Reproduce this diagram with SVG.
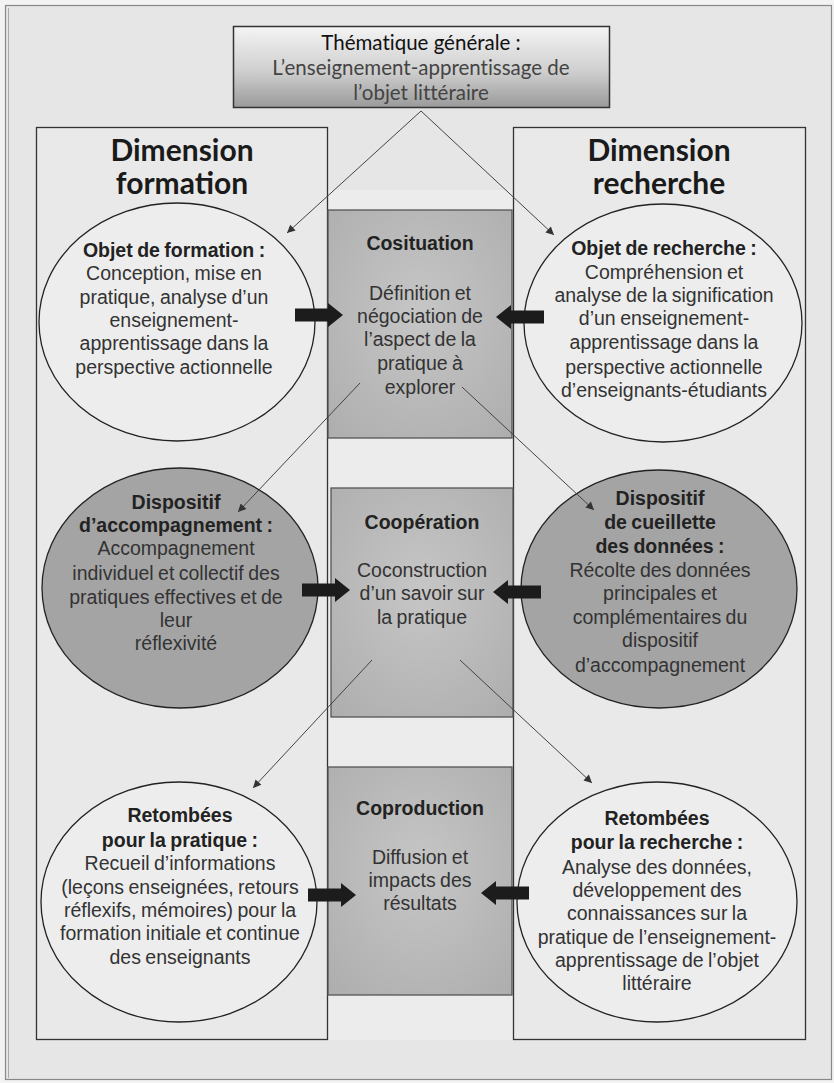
<svg xmlns="http://www.w3.org/2000/svg" xmlns:xlink="http://www.w3.org/1999/xlink" width="834" height="1083" viewBox="0 0 834 1083">
<defs>
<style>
.t{font-family:"Liberation Sans",Arial,sans-serif;font-size:19.5px;fill:#333;text-anchor:middle;word-spacing:-1px}
.b{font-weight:bold;fill:#222}
.dim{font-family:Lato,"Open Sans",sans-serif;font-size:30px;font-weight:bold;fill:#1a1a1a;text-anchor:middle}
.top{font-family:Lato,"Open Sans",sans-serif;font-size:20.5px;text-anchor:middle;fill:#444;font-variant-ligatures:none}
.col{fill:#e9e9e9;stroke:#333;stroke-width:1.3}
.ell{fill:#ededed;stroke:#222;stroke-width:1.3}
.ellD{fill:#a4a4a4;stroke:#222;stroke-width:1.3}
.cbox{fill:url(#cg);stroke:#555;stroke-width:1.3}
.conn{stroke:#444;stroke-width:1;fill:none;marker-end:url(#ah)}
.blk{fill:#1c1c1c}
</style>
<linearGradient id="tg" x1="0" y1="0" x2="0" y2="1">
<stop offset="0" stop-color="#f4f4f4"/>
<stop offset="0.55" stop-color="#cfcfcf"/>
<stop offset="1" stop-color="#9a9a9a"/>
</linearGradient>
<radialGradient id="cg" cx="0.5" cy="0.45" r="0.75">
<stop offset="0" stop-color="#c6c6c6"/>
<stop offset="1" stop-color="#adadad"/>
</radialGradient>
<marker id="ah" viewBox="0 0 10 10" refX="10" refY="5" markerWidth="10" markerHeight="8" markerUnits="userSpaceOnUse" orient="auto">
<path d="M0,0 L10,5 L0,10 Z" fill="#333"/>
</marker>
<path id="blkArrow" d="M0,-6.5 H33 V-12 L48,0 L33,12 V6.5 H0 Z"/>
</defs>

<rect x="0" y="0" width="834" height="1083" fill="#f3f3f3"/>
<rect x="5.5" y="5.5" width="826" height="1074" fill="#e6e6e6" stroke="#888" stroke-width="1.2"/>
<line x1="8.5" y1="8" x2="8.5" y2="1078" stroke="#aaa" stroke-width="1"/>

<g id="strip">
<rect x="327" y="190" width="186" height="850" fill="#ececec"/>
</g>

<g id="col-formation">
<rect class="col" x="36.5" y="127.5" width="291" height="912"/>
<text class="dim" x="182" y="161">Dimension</text>
<text class="dim" x="182" y="194">formation</text>
</g>

<g id="col-recherche">
<rect class="col" x="513.5" y="127.5" width="292" height="912"/>
<text class="dim" x="659" y="161">Dimension</text>
<text class="dim" x="659" y="194">recherche</text>
</g>

<g id="thematique">
<rect x="233.5" y="26.5" width="376" height="81" fill="url(#tg)" stroke="#333" stroke-width="1.5"/>
<text class="top" x="421" y="50" style="fill:#111">Thématique générale :</text>
<text class="top" x="421" y="75">L’enseignement-apprentissage de</text>
<text class="top" x="421" y="100">l’objet littéraire</text>
</g>

<g id="cosituation">
<rect class="cbox" x="328" y="210" width="184" height="228"/>
<text class="t b" x="420" y="250">Cosituation</text>
<text class="t" x="420" y="300">Définition et</text>
<text class="t" x="420" y="323">négociation de</text>
<text class="t" x="420" y="346">l’aspect de la</text>
<text class="t" x="420" y="370">pratique à</text>
<text class="t" x="420" y="394">explorer</text>
</g>

<g id="cooperation">
<rect class="cbox" x="331" y="488" width="182" height="229"/>
<text class="t b" x="422" y="529">Coopération</text>
<text class="t" x="422" y="577">Coconstruction</text>
<text class="t" x="422" y="600">d’un savoir sur</text>
<text class="t" x="422" y="624">la pratique</text>
</g>

<g id="coproduction">
<rect class="cbox" x="328" y="767" width="184" height="228"/>
<text class="t b" x="420" y="815">Coproduction</text>
<text class="t" x="420" y="864">Diffusion et</text>
<text class="t" x="420" y="887">impacts des</text>
<text class="t" x="420" y="910">résultats</text>
</g>

<g id="objet-formation">
<ellipse class="ell" cx="177" cy="322" rx="138" ry="119"/>
<text class="t b" x="174" y="257">Objet de formation :</text>
<text class="t" x="174" y="280">Conception, mise en</text>
<text class="t" x="174" y="304">pratique, analyse d’un</text>
<text class="t" x="174" y="327">enseignement-</text>
<text class="t" x="174" y="350">apprentissage dans la</text>
<text class="t" x="174" y="374">perspective actionnelle</text>
</g>

<g id="objet-recherche">
<ellipse class="ell" cx="663" cy="323" rx="139" ry="119"/>
<text class="t b" x="664" y="255">Objet de recherche :</text>
<text class="t" x="664" y="279">Compréhension et</text>
<text class="t" x="664" y="302">analyse de la signification</text>
<text class="t" x="664" y="325">d’un enseignement-</text>
<text class="t" x="664" y="349">apprentissage  dans la</text>
<text class="t" x="664" y="374">perspective actionnelle</text>
<text class="t" x="664" y="397">d’enseignants-étudiants</text>
</g>

<g id="dispositif-accompagnement">
<ellipse class="ellD" cx="180" cy="588" rx="138" ry="120"/>
<text class="t b" x="176" y="509">Dispositif</text>
<text class="t b" x="176" y="532">d’accompagnement :</text>
<text class="t" x="176" y="555">Accompagnement</text>
<text class="t" x="176" y="580">individuel et collectif des</text>
<text class="t" x="176" y="604">pratiques effectives et de</text>
<text class="t" x="176" y="627">leur</text>
<text class="t" x="176" y="650">réflexivité</text>
</g>

<g id="dispositif-cueillette">
<ellipse class="ellD" cx="659" cy="589" rx="138" ry="119"/>
<text class="t b" x="660" y="505">Dispositif</text>
<text class="t b" x="660" y="529">de cueillette</text>
<text class="t b" x="660" y="553">des données  :</text>
<text class="t" x="660" y="577">Récolte des données</text>
<text class="t" x="660" y="600">principales et</text>
<text class="t" x="660" y="624">complémentaires du</text>
<text class="t" x="660" y="647">dispositif</text>
<text class="t" x="660" y="672">d’accompagnement</text>
</g>

<g id="retombees-pratique">
<ellipse class="ell" cx="179" cy="902" rx="138" ry="120"/>
<text class="t b" x="180" y="822">Retombées</text>
<text class="t b" x="180" y="847">pour la pratique :</text>
<text class="t" x="180" y="870">Recueil d’informations</text>
<text class="t" x="180" y="894">(leçons enseignées, retours</text>
<text class="t" x="180" y="917">réflexifs, mémoires) pour la</text>
<text class="t" x="180" y="940">formation initiale et continue</text>
<text class="t" x="180" y="964">des enseignants</text>
</g>

<g id="retombees-recherche">
<ellipse class="ell" cx="657" cy="902" rx="140" ry="120"/>
<text class="t b" x="657" y="825">Retombées</text>
<text class="t b" x="657" y="849">pour la recherche :</text>
<text class="t" x="657" y="874">Analyse des données,</text>
<text class="t" x="657" y="897">développement  des</text>
<text class="t" x="657" y="920">connaissances sur la</text>
<text class="t" x="657" y="944">pratique de l’enseignement-</text>
<text class="t" x="657" y="967">apprentissage de l’objet</text>
<text class="t" x="657" y="990">littéraire</text>
</g>

<g id="connectors">
<line class="conn" x1="421" y1="111" x2="287" y2="233"/>
<line class="conn" x1="421" y1="111" x2="554" y2="235"/>
<line class="conn" x1="360" y1="383" x2="238" y2="512"/>
<line class="conn" x1="462" y1="387" x2="594" y2="510"/>
<line class="conn" x1="372" y1="660" x2="253" y2="788"/>
<line class="conn" x1="460" y1="660" x2="592" y2="783"/>
<use xlink:href="#blkArrow" class="blk" transform="translate(295,315)"/>
<use xlink:href="#blkArrow" class="blk" transform="translate(544,317) scale(-1,1)"/>
<use xlink:href="#blkArrow" class="blk" transform="translate(302,590)"/>
<use xlink:href="#blkArrow" class="blk" transform="translate(541,592) scale(-1,1)"/>
<use xlink:href="#blkArrow" class="blk" transform="translate(308,895)"/>
<use xlink:href="#blkArrow" class="blk" transform="translate(529,893) scale(-1,1)"/>
</g>
</svg>
